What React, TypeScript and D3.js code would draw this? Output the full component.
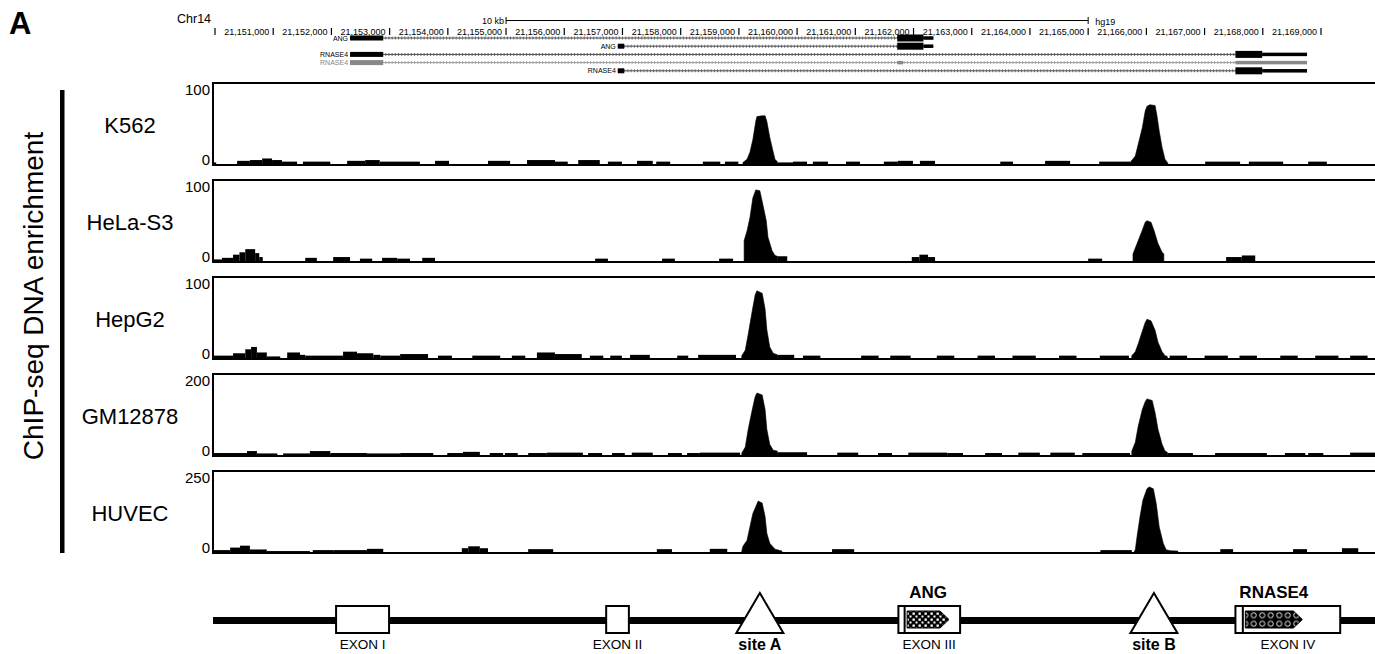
import React from "react";
import * as d3 from "d3";

// genomic offsets are in kb from chr14:21,150,000 (hg19)
const START = 21150000;
const rulerKb = d3.range(0, 20);

const cellLines = ["K562", "HeLa-S3", "HepG2", "GM12878", "HUVEC"];
const yMax = [100, 100, 100, 200, 250];

// low background coverage: [startKb, endKb, value]
const k562Blocks = [[-0.03,0.02,2],[0.38,0.60,4],[0.60,0.81,5],[0.81,0.98,7],[0.98,1.15,5],[1.15,1.41,3],[1.51,1.98,3],[2.27,2.58,4],[2.58,2.83,5],[2.83,3.52,3],[3.78,4.02,4],[4.69,5.07,4],[5.36,5.84,5],[5.84,6.06,3],[6.24,6.61,5],[6.75,6.99,3],[7.25,7.52,4],[7.58,7.82,3],[8.38,8.68,3],[8.76,8.99,3],[9.66,9.93,2],[9.93,10.17,3],[10.27,10.53,3],[10.84,11.08,3],[11.49,11.73,3],[11.73,11.99,4],[12.11,12.37,4],[13.49,13.71,3],[14.26,14.69,4],[15.19,15.72,3],[17.01,17.61,3],[17.76,18.35,3],[18.78,19.10,3]];
const helaBlocks = [[-0.03,0.12,2],[0.12,0.31,4],[0.31,0.42,8],[0.42,0.52,11],[0.52,0.69,15],[0.69,0.76,10],[0.76,0.82,5],[1.55,1.75,4],[2.03,2.32,5],[2.49,2.70,3],[2.87,3.13,4],[3.13,3.35,3],[3.56,3.78,4],[6.53,6.75,3],[7.68,7.90,3],[8.66,8.90,3],[9.66,9.83,6],[11.97,12.10,5],[12.10,12.25,8],[12.25,12.37,5],[15.0,15.24,3],[17.37,17.64,5],[17.64,17.87,7]];
const hepg2Blocks = [[-0.03,0.31,3],[0.31,0.52,6],[0.52,0.62,11],[0.62,0.72,14],[0.72,0.89,7],[0.89,1.12,2],[1.24,1.46,7],[1.46,1.55,4],[1.55,2.20,3],[2.20,2.44,8],[2.44,2.72,6],[2.72,2.84,4],[2.84,3.18,3],[3.18,3.66,5],[3.83,4.07,3],[4.42,4.90,3],[5.10,5.33,3],[5.53,5.84,7],[5.84,6.30,5],[6.44,6.67,3],[6.79,6.99,3],[7.13,7.47,4],[7.94,8.13,3],[8.30,8.95,4],[9.66,9.95,4],[10.10,10.40,3],[11.10,11.40,3],[11.60,11.95,3],[12.40,12.70,3],[13.10,13.40,3],[13.70,14.10,3],[14.50,14.80,3],[15.20,15.70,3],[16.40,16.70,3],[17.00,17.40,3],[17.60,17.90,3],[18.30,18.60,3],[18.90,19.30,3],[19.50,19.80,3]];
const gmBlocks = [[-0.03,0.55,5],[0.55,0.72,10],[0.72,1.07,4],[1.17,1.63,4],[1.63,1.98,10],[1.98,2.61,5],[2.61,3.18,4],[3.18,3.75,5],[3.99,4.26,5],[4.26,4.55,8],[4.72,4.95,5],[4.98,5.20,5],[5.38,5.70,5],[5.70,6.32,6],[6.41,6.65,5],[6.82,7.04,5],[7.16,7.52,6],[7.78,8.02,5],[8.11,8.33,5],[8.33,9.02,6],[9.66,10.17,7],[10.69,11.05,6],[11.39,11.63,5],[11.91,12.58,6],[12.58,12.85,5],[13.23,13.52,5],[13.80,14.17,6],[14.35,14.77,6],[14.90,15.72,5],[16.36,16.80,5],[17.18,18.07,5],[18.38,18.73,5],[18.78,19.04,5],[19.50,19.93,6]];
const huvecBlocks = [[-0.03,0.26,6],[0.26,0.43,14],[0.43,0.60,20],[0.60,0.89,8],[0.89,1.63,3],[1.68,2.03,6],[2.03,2.61,6],[2.61,2.89,10],[4.24,4.35,12],[4.35,4.55,18],[4.55,4.69,12],[5.38,5.81,9],[7.59,7.85,9],[8.50,8.80,10],[10.60,10.98,9],[15.21,15.75,6],[17.27,17.49,9],[18.52,18.76,9],[19.36,19.64,12]];

// peak profiles at site A and site B: [kb, value]
const k562PeakA = [[9.07,0],[9.07,2],[9.14,6],[9.19,15],[9.24,31],[9.29,54],[9.31,60],[9.40,61],[9.45,61],[9.48,54],[9.53,34],[9.59,15],[9.62,6],[9.66,3],[9.66,0]];
const k562PeakB = [[15.72,0],[15.72,2],[15.81,10],[15.86,25],[15.93,46],[15.98,67],[16.01,73],[16.06,75],[16.15,74],[16.18,62],[16.22,42],[16.27,21],[16.32,6],[16.37,1],[16.37,0]];
const helaPeakA = [[9.09,0],[9.09,26],[9.14,38],[9.19,55],[9.24,80],[9.29,90],[9.36,89],[9.41,72],[9.47,51],[9.50,30],[9.57,13],[9.62,7],[9.66,6],[9.66,0]];
const helaPeakB = [[15.77,0],[15.77,9],[15.84,22],[15.93,39],[15.98,49],[16.01,51],[16.08,49],[16.13,39],[16.20,22],[16.27,11],[16.30,9],[16.30,0]];
const hepg2PeakA = [[9.05,0],[9.05,3],[9.11,10],[9.16,30],[9.23,60],[9.28,80],[9.31,85],[9.40,82],[9.45,62],[9.48,36],[9.53,14],[9.59,6],[9.66,4],[9.66,0]];
const hepg2PeakB = [[15.75,0],[15.75,3],[15.81,8],[15.86,18],[15.93,34],[15.98,45],[16.01,49],[16.08,47],[16.15,35],[16.20,20],[16.27,8],[16.32,3],[16.36,2],[16.36,0]];
const gmPeakA = [[9.05,0],[9.05,5],[9.11,20],[9.16,65],[9.23,115],[9.28,148],[9.31,157],[9.40,152],[9.45,115],[9.48,65],[9.53,27],[9.59,12],[9.66,10],[9.66,0]];
const gmPeakB = [[15.75,0],[15.75,10],[15.81,32],[15.86,73],[15.93,115],[15.98,135],[16.01,142],[16.10,138],[16.15,107],[16.20,65],[16.27,27],[16.32,10],[16.36,7],[16.36,0]];
const huvecPeakA = [[9.05,0],[9.05,3],[9.07,18],[9.14,37],[9.19,80],[9.24,122],[9.31,152],[9.33,161],[9.40,155],[9.45,112],[9.48,59],[9.53,28],[9.62,9],[9.74,3],[9.74,0]];
const huvecPeakB = [[15.79,0],[15.81,7],[15.84,49],[15.89,111],[15.94,164],[16.01,200],[16.05,206],[16.12,200],[16.17,153],[16.22,80],[16.29,28],[16.34,7],[16.41,4],[16.54,3],[16.54,0]];

const allBlocks = [k562Blocks, helaBlocks, hepg2Blocks, gmBlocks, huvecBlocks];
const allPeaks = [[k562PeakA, k562PeakB], [helaPeakA, helaPeakB], [hepg2PeakA, hepg2PeakB], [gmPeakA, gmPeakB], [huvecPeakA, huvecPeakB]];

// UCSC gene models
const geneNames = ["ANG", "ANG", "RNASE4", "RNASE4", "RNASE4"];
const geneColors = ["#000", "#000", "#000", "#888", "#000"];
const geneSpans = [[2.32, 12.34], [6.92, 12.34], [2.32, 18.76], [2.32, 18.76], [6.92, 18.76]];
const geneExons: [number, number, string][][] = [
  [[2.32, 2.89, "exon"], [11.72, 12.17, "cds"], [12.17, 12.34, "utr"]],
  [[6.92, 7.03, "exon"], [11.72, 12.17, "cds"], [12.17, 12.34, "utr"]],
  [[2.32, 2.89, "exon"], [17.53, 17.99, "cds"], [17.99, 18.76, "utr"]],
  [[2.32, 2.89, "exon"], [11.72, 11.82, "utr"], [17.53, 18.76, "utr"]],
  [[6.92, 7.03, "exon"], [17.53, 17.99, "cds"], [17.99, 18.76, "utr"]],
];

// schematic of the locus
const exonNames = ["EXON I", "EXON II", "EXON III", "EXON IV"];
const exonRanges = [[2.08, 2.99], [6.72, 7.11], [11.74, 12.80], [17.53, 19.33]];
const codingGenes = ["ANG", "RNASE4"];
const codingRanges = [[11.89, 12.61], [17.70, 18.68]];
const siteNames = ["site A", "site B"];
const sitePos = [9.36, 16.13];

const FONT = "'Liberation Sans', Arial, Helvetica, sans-serif";
const W = 1375;
const H = 654;

export default function App() {
  const x = d3.scaleLinear().domain([0, 19]).range([215, 1321]);
  const fmt = d3.format(",");
  const panelH = 82;
  const rowY = (i: number) => 38 + i * 8.2;
  const exH: Record<string, number> = { exon: 5, cds: 7, utr: 3.5 };

  return (
    <svg width={W} height={H} style={{ position: "absolute", left: 0, top: 0, background: "#fff" }} fontFamily={FONT}>
      <defs>
        <pattern id="pAng" width="6" height="6" patternUnits="userSpaceOnUse">
          <rect width="6" height="6" fill="#000" />
          <rect x="0.5" y="0.5" width="2.3" height="2.3" fill="#fff" />
          <rect x="3.5" y="3.5" width="2" height="2" fill="#fff" />
        </pattern>
        <pattern id="pRn" width="8.5" height="8.5" patternUnits="userSpaceOnUse" y="611">
          <rect width="8.5" height="8.5" fill="#000" />
          <circle cx="4.25" cy="4.25" r="2.6" fill="none" stroke="#fff" strokeWidth="0.9" />
        </pattern>
        {cellLines.map((c, i) => (
          <clipPath id={`clip${i}`} key={c}>
            <rect x={214} y={83 + i * 97 + 1} width={W - 214} height={panelH - 2} />
          </clipPath>
        ))}
      </defs>

      {/* panel letter */}
      <text x={9} y={34} fontSize={31} fontWeight="bold">A</text>

      {/* ruler */}
      <text x={177} y={23} fontSize={12.5}>Chr14</text>
      <text x={x(5) - 2} y={24} fontSize={9} textAnchor="end">10 kb</text>
      <line x1={x(5)} x2={x(15)} y1={20.5} y2={20.5} stroke="#000" strokeWidth={1} />
      <line x1={x(5)} x2={x(5)} y1={17} y2={24} stroke="#000" />
      <line x1={x(15)} x2={x(15)} y1={17} y2={24} stroke="#000" />
      <text x={x(15) + 7} y={25} fontSize={9}>hg19</text>
      {rulerKb.map((k) => (
        <g key={k}>
          <line x1={x(k)} x2={x(k)} y1={28} y2={35} stroke="#000" strokeWidth={1.2} />
          {k > 0 && (
            <text x={x(k) - 4} y={34.5} fontSize={9} textAnchor="end">{fmt(START + k * 1000)}</text>
          )}
        </g>
      ))}

      {/* gene models */}
      {geneNames.map((g, i) => {
        const y0 = rowY(i);
        const col = geneColors[i];
        const [s, e] = geneSpans[i];
        return (
          <g key={i}>
            <line x1={x(s)} x2={x(e)} y1={y0} y2={y0} stroke={col === "#000" ? "#444" : "#999"} strokeWidth={1} />
            <line x1={x(s)} x2={x(e)} y1={y0} y2={y0} stroke={col === "#000" ? "#666" : "#aaa"} strokeWidth={3} strokeDasharray="1 2.2" />
            {geneExons[i].map(([a, b, kind], j) => (
              <rect key={j} x={x(a)} width={x(b) - x(a)} y={y0 - exH[kind] / 2} height={exH[kind]} fill={col} />
            ))}
            <text x={x(s) - 2} y={y0 + 2.5} fontSize={7} textAnchor="end" fill={col === "#000" ? "#000" : "#888"}>{g}</text>
          </g>
        );
      })}

      {/* y label and bar */}
      <rect x={60} y={90} width={4.5} height={463} fill="#000" />
      <text transform="translate(43,296) rotate(-90)" fontSize={28} textAnchor="middle">ChIP-seq DNA enrichment</text>

      {/* tracks */}
      {cellLines.map((c, i) => {
        const top = 83 + i * 97;
        const y = d3.scaleLinear().domain([0, yMax[i]]).range([top + panelH - 1, top + 2]);
        const area = d3
          .area<number[]>()
          .x((d) => x(d[0]))
          .y0(y(0))
          .y1((d) => y(d[1]));
        return (
          <g key={c}>
            <g clipPath={`url(#clip${i})`}>
              {allBlocks[i].map(([a, b, v], j) => (
                <rect key={j} x={x(a)} width={x(b) - x(a)} y={y(v)} height={y(0) - y(v)} fill="#000" />
              ))}
              {allPeaks[i].map((p, j) => (
                <path key={j} d={area(p) || ""} fill="#000" stroke="#000" strokeWidth={0.6} />
              ))}
            </g>
            <rect x={213} y={top} width={W - 213 + 10} height={panelH} fill="none" stroke="#000" strokeWidth={2} />
            <text x={210} y={top + 12} fontSize={15} textAnchor="end">{yMax[i]}</text>
            <text x={210} y={top + panelH} fontSize={15} textAnchor="end">0</text>
            <text x={130} y={top + 50} fontSize={22} textAnchor="middle">{c}</text>
          </g>
        );
      })}

      {/* locus schematic */}
      <rect x={213} y={617} width={W - 213} height={7} fill="#000" />
      {exonNames.map((n, i) => {
        const [a, b] = exonRanges[i];
        return (
          <g key={n}>
            <rect x={x(a)} y={606} width={x(b) - x(a)} height={27} fill="#fff" stroke="#000" strokeWidth={2} />
            <text x={(x(a) + x(b)) / 2} y={649} fontSize={13.5} textAnchor="middle">{n}</text>
          </g>
        );
      })}
      {codingGenes.map((g, i) => {
        const [a, b] = codingRanges[i];
        const x0 = x(a);
        const x1 = x(b);
        const pts = [[x0, 611], [x1 - 9, 611], [x1, 619.5], [x1 - 9, 628], [x0, 628]];
        return (
          <g key={g}>
            <rect x={x0 - 3.5} y={607} width={2} height={25} fill="#000" />
            <polygon points={pts.map((p) => p.join(",")).join(" ")} fill={i === 0 ? "url(#pAng)" : "url(#pRn)"} stroke="#000" strokeWidth={1} />
            <text x={(x0 + x1) / 2} y={598} fontSize={17} fontWeight="bold" textAnchor="middle">{g}</text>
          </g>
        );
      })}
      {siteNames.map((s, i) => {
        const cx = x(sitePos[i]);
        return (
          <g key={s}>
            <polygon points={`${cx},593 ${cx - 23.5},633 ${cx + 23.5},633`} fill="#fff" stroke="#000" strokeWidth={2} />
            <text x={cx} y={650} fontSize={16} fontWeight="bold" textAnchor="middle">{s}</text>
          </g>
        );
      })}
    </svg>
  );
}
